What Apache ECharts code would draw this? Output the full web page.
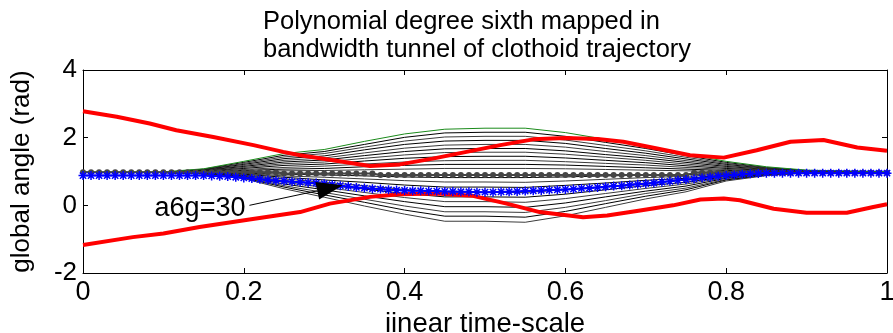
<!DOCTYPE html>
<html>
<head>
<meta charset="utf-8">
<script src="https://cdn.jsdelivr.net/npm/echarts@6/dist/echarts.min.js"></script>
<style>
html,body{margin:0;padding:0;background:#fff;}
#chart{width:893px;height:333px;}
</style>
</head>
<body>
<div id="chart"></div>
<script>
// ---- data ----
const titleText = 'Polynomial degree sixth mapped in\nbandwidth tunnel of clothoid trajectory';
const xName = 'iinear time-scale';
const yName = 'global angle (rad)';
const annotationText = 'a6g=30';

// polynomial family sampled at these x positions
const familyX = [0, 0.1, 0.15, 0.2, 0.25, 0.3, 0.35, 0.4, 0.45, 0.5, 0.55, 0.6, 0.65, 0.7, 0.75, 0.8, 0.85, 0.9, 1];
const greenY = [0.99,0.99,1.08,1.30,1.53,1.65,1.89,2.11,2.25,2.28,2.28,2.15,1.95,1.76,1.52,1.30,1.14,1.04,0.99];
const upperCurves = [
  [0.97,0.97,1.07,1.27,1.48,1.59,1.80,2.01,2.14,2.16,2.16,2.04,1.86,1.68,1.47,1.27,1.12,1.03,0.97],
  [0.97,0.97,1.06,1.24,1.43,1.53,1.72,1.90,2.02,2.04,2.04,1.93,1.77,1.61,1.42,1.24,1.11,1.02,0.97],
  [0.97,0.97,1.05,1.21,1.38,1.46,1.64,1.80,1.90,1.92,1.92,1.83,1.68,1.54,1.37,1.21,1.09,1.02,0.97],
  [0.97,0.97,1.04,1.18,1.33,1.40,1.55,1.69,1.78,1.80,1.80,1.72,1.59,1.47,1.32,1.18,1.08,1.01,0.97],
  [0.97,0.97,1.03,1.15,1.28,1.34,1.47,1.59,1.67,1.68,1.68,1.61,1.50,1.40,1.27,1.15,1.06,1.01,0.97],
  [0.97,0.97,1.02,1.12,1.23,1.28,1.39,1.49,1.56,1.57,1.57,1.51,1.42,1.33,1.22,1.12,1.05,1.00,0.97],
  [0.97,0.97,1.01,1.09,1.18,1.22,1.31,1.39,1.44,1.45,1.45,1.40,1.33,1.26,1.17,1.09,1.03,0.99,0.97],
  [0.97,0.97,1.00,1.06,1.12,1.16,1.22,1.28,1.32,1.33,1.33,1.29,1.24,1.19,1.12,1.06,1.02,0.99,0.97],
  [0.97,0.97,0.99,1.03,1.07,1.09,1.14,1.18,1.21,1.21,1.21,1.19,1.15,1.11,1.07,1.03,1.00,0.98,0.97],
  [0.97,0.97,0.98,1.00,1.02,1.03,1.05,1.07,1.09,1.09,1.09,1.08,1.06,1.04,1.02,1.00,0.99,0.98,0.97]
];
const lowerCurves = [
  [0.97,0.97,0.97,0.95,0.92,0.90,0.87,0.84,0.82,0.82,0.82,0.84,0.87,0.89,0.91,0.94,0.96,0.97,0.97],
  [0.97,0.97,0.96,0.94,0.87,0.83,0.78,0.73,0.69,0.69,0.68,0.72,0.77,0.82,0.86,0.92,0.95,0.97,0.97],
  [0.97,0.97,0.96,0.92,0.83,0.75,0.68,0.60,0.54,0.54,0.53,0.59,0.66,0.74,0.80,0.90,0.94,0.97,0.97],
  [0.97,0.97,0.95,0.90,0.78,0.68,0.58,0.47,0.39,0.39,0.38,0.46,0.56,0.66,0.74,0.87,0.93,0.96,0.97],
  [0.97,0.97,0.95,0.88,0.73,0.60,0.48,0.35,0.25,0.25,0.24,0.33,0.46,0.58,0.68,0.85,0.93,0.96,0.97],
  [0.97,0.97,0.94,0.86,0.68,0.53,0.38,0.23,0.11,0.11,0.09,0.20,0.35,0.50,0.63,0.82,0.92,0.96,0.97],
  [0.97,0.97,0.94,0.85,0.63,0.46,0.28,0.11,-0.04,-0.04,-0.06,0.07,0.25,0.42,0.57,0.80,0.91,0.96,0.97],
  [0.97,0.97,0.94,0.83,0.58,0.38,0.18,-0.02,-0.19,-0.19,-0.21,-0.06,0.14,0.35,0.51,0.77,0.90,0.96,0.97],
  [0.97,0.97,0.93,0.81,0.54,0.31,0.09,-0.14,-0.32,-0.32,-0.35,-0.18,0.05,0.27,0.46,0.75,0.89,0.96,0.97],
  [0.97,0.97,0.93,0.79,0.49,0.24,-0.02,-0.26,-0.47,-0.47,-0.50,-0.31,-0.06,0.19,0.40,0.72,0.88,0.96,0.97]
];

// red tunnel borders
const red1X = [0, 0.042, 0.083, 0.116, 0.162, 0.212, 0.249, 0.27, 0.311, 0.357, 0.394, 0.435, 0.477, 0.519, 0.56, 0.6, 0.64, 0.672, 0.714, 0.755, 0.797, 0.838, 0.88, 0.921, 0.963, 1.0];
const red1Y = [2.78, 2.62, 2.42, 2.22, 2.02, 1.78, 1.58, 1.48, 1.33, 1.16, 1.21, 1.38, 1.58, 1.78, 1.95, 1.99, 1.96, 1.88, 1.68, 1.48, 1.41, 1.63, 1.88, 1.93, 1.71, 1.61];
const red2X = [0, 0.062, 0.1, 0.145, 0.207, 0.27, 0.307, 0.357, 0.394, 0.44, 0.485, 0.527, 0.568, 0.622, 0.652, 0.693, 0.734, 0.768, 0.797, 0.817, 0.859, 0.9, 0.95, 0.983, 1.0];
const red2Y = [-1.17, -0.94, -0.83, -0.64, -0.42, -0.2, 0.05, 0.25, 0.33, 0.35, 0.28, 0.05, -0.2, -0.35, -0.3, -0.15, 0.0, 0.17, 0.2, 0.15, -0.1, -0.22, -0.22, -0.05, 0.03];

// marker lines sampled every 0.01 from 0 to 1
const grayY = [
  0.98,0.98,0.98,0.98,0.98,0.98,0.98,0.98,0.98,0.98,0.98,0.98,0.98,0.98,0.98,0.98,0.98,0.98,0.98,0.98,0.98,0.98,0.98,0.98,0.98,
  0.94,0.94,0.94,0.94,0.94,0.94,0.94,0.94,0.94,0.94,0.94,0.94,
  0.90,0.90,0.90,0.90,0.90,0.90,0.90,0.90,0.90,0.90,0.90,0.90,0.90,0.90,0.90,0.90,0.90,0.90,0.90,0.90,0.90,0.90,0.90,0.90,
  0.90,0.90,0.90,0.90,0.90,0.90,0.90,0.90,0.90,0.90,0.90,0.90,0.90,0.90,0.90,
  0.96,0.96,0.96,0.96,0.96,0.96,0.96,0.96,0.96,0.96,0.96,0.96,0.96,0.96,0.96,0.96,0.96,0.96,0.96,0.96,0.96,0.96,0.96,0.96,0.96
];
const blueY = [
  0.88,0.88,0.88,0.88,0.88,0.88,0.88,0.88,0.88,0.88,0.88,0.88,0.88,0.88,0.88,0.88,
  0.87,0.86,0.85,0.83,0.81,0.79,0.77,0.75,0.73,0.72,0.70,0.69,0.67,0.66,0.64,0.61,0.58,0.56,0.53,0.51,0.49,0.48,0.46,0.45,
  0.44,0.43,0.43,0.42,0.42,0.41,0.41,0.40,0.40,0.39,0.39,0.39,0.40,0.40,0.41,0.42,0.43,0.44,0.45,0.46,
  0.47,0.48,0.50,0.51,0.53,0.55,0.57,0.58,0.60,0.62,0.64,0.66,0.69,0.71,0.74,0.76,0.78,0.81,0.83,0.86,
  0.88,0.90,0.92,0.93,0.94,
  0.95,0.95,0.95,0.95,0.95,0.95,0.95,0.95,0.95,0.95,0.95,0.95,0.95,0.95,0.95,0.95
];
const sampleStep = 0.01;

// annotation arrow: from text end to the arrow tip (data coords)
const arrowFrom = [0.207, 0.0];
const arrowTo = [0.323, 0.59];

// ---- chart ----
const FONT = 'Liberation Sans';
const pairs = (xs, ys) => xs.map((x, i) => [x, ys[i]]);
const sampled = ys => ys.map((y, i) => [+(i * sampleStep).toFixed(2), y]);

const series = [];
upperCurves.concat(lowerCurves).forEach((c, k) => {
  series.push({
    type: 'line', data: pairs(familyX, c), showSymbol: false, silent: true,
    lineStyle: { color: k % 2 ? '#3a3a3a' : '#000', width: 1 }, z: 2
  });
});
series.push({ type: 'line', data: pairs(familyX, greenY), showSymbol: false, silent: true,
  lineStyle: { color: '#1a8a1a', width: 1 }, z: 3 });
series.push({ type: 'line', data: pairs(red1X, red1Y), showSymbol: false, silent: true,
  lineStyle: { color: '#ff0000', width: 4 }, z: 4 });
series.push({ type: 'line', data: pairs(red2X, red2Y), showSymbol: false, silent: true,
  lineStyle: { color: '#ff0000', width: 4 }, z: 4 });
series.push({ type: 'line', data: sampled(grayY), symbol: 'circle', symbolSize: 6, silent: true,
  itemStyle: { color: '#454545' }, lineStyle: { color: '#454545', width: 2 }, z: 5 });
series.push({ type: 'line', data: sampled(blueY), silent: true,
  symbol: 'path://M5 0L5 10M0 5L10 5M1.5 1.5L8.5 8.5M8.5 1.5L1.5 8.5', symbolSize: 9,
  itemStyle: { color: '#0000ff', borderColor: '#0000ff', borderWidth: 1.5 },
  lineStyle: { color: '#0000ff', width: 2 }, z: 6 });

// annotation: text + line + filled arrow head, positioned through the axes
series.push({
  type: 'custom', silent: true, z: 8, clip: false,
  data: [[arrowFrom[0], arrowFrom[1], arrowTo[0], arrowTo[1]]],
  encode: { x: [0, 2], y: [1, 3] },
  renderItem: function (params, api) {
    const p0 = api.coord([api.value(0), api.value(1)]);
    const p1 = api.coord([api.value(2), api.value(3)]);
    const dx = p1[0] - p0[0], dy = p1[1] - p0[1];
    const len = Math.sqrt(dx * dx + dy * dy);
    const ux = dx / len, uy = dy / len;
    const headLen = 26, headHalf = 9;
    const bx = p1[0] - ux * headLen, by = p1[1] - uy * headLen;
    const nx = -uy, ny = ux;
    return {
      type: 'group',
      children: [
        { type: 'line', shape: { x1: p0[0], y1: p0[1], x2: bx, y2: by },
          style: { stroke: '#000', lineWidth: 1 } },
        { type: 'polygon', shape: { points: [
            [p1[0], p1[1]],
            [bx + nx * headHalf, by + ny * headHalf],
            [bx - nx * headHalf, by - ny * headHalf]] },
          style: { fill: '#000' } },
        { type: 'text', x: p0[0] - 4, y: p0[1] + 3,
          style: { text: annotationText, fontSize: 27, fontFamily: FONT, fill: '#000',
            align: 'right', verticalAlign: 'middle' } }
      ]
    };
  }
});

const fmt = v => (v === 0 || v === 1) ? String(v) : (+v.toFixed(1)).toString();
const axisCommon = {
  axisLine: { show: true, onZero: false, lineStyle: { color: '#000', width: 1 } },
  axisTick: { show: true, inside: true, length: 5, lineStyle: { color: '#000', width: 1 } },
  splitLine: { show: false }
};

const option = {
  animation: false,
  textStyle: { fontFamily: FONT },
  title: {
    text: titleText, left: 258, top: 3, textAlign: 'left',
    textStyle: { fontSize: 25.5, fontWeight: 'normal', color: '#000', fontFamily: FONT, lineHeight: 28 }
  },
  grid: { left: 83, right: 6, top: 70, bottom: 60, containLabel: false, outerBoundsMode: 'none' },
  xAxis: [
    Object.assign({ type: 'value', min: 0, max: 1, interval: 0.2, position: 'bottom',
      name: xName, nameLocation: 'middle', nameGap: 33,
      nameTextStyle: { fontSize: 27.5, color: '#000', fontFamily: FONT },
      axisLabel: { fontSize: 27, color: '#000', margin: 6, formatter: fmt, fontFamily: FONT } }, axisCommon),
    Object.assign({ type: 'value', min: 0, max: 1, interval: 0.2, position: 'top',
      axisLabel: { show: false } }, axisCommon)
  ],
  yAxis: [
    Object.assign({ type: 'value', min: -2, max: 4, interval: 2, position: 'left',
      name: yName, nameLocation: 'middle', nameGap: 48, nameRotate: 90,
      nameTextStyle: { fontSize: 26, color: '#000', fontFamily: FONT },
      axisLabel: { fontSize: 26, color: '#000', margin: 6, fontFamily: FONT } }, axisCommon),
    Object.assign({ type: 'value', min: -2, max: 4, interval: 2, position: 'right',
      axisLabel: { show: false } }, axisCommon)
  ],
  series: series
};

const chart = echarts.init(document.getElementById('chart'), null, { renderer: 'canvas' });
chart.setOption(option);
</script>
</body>
</html>
